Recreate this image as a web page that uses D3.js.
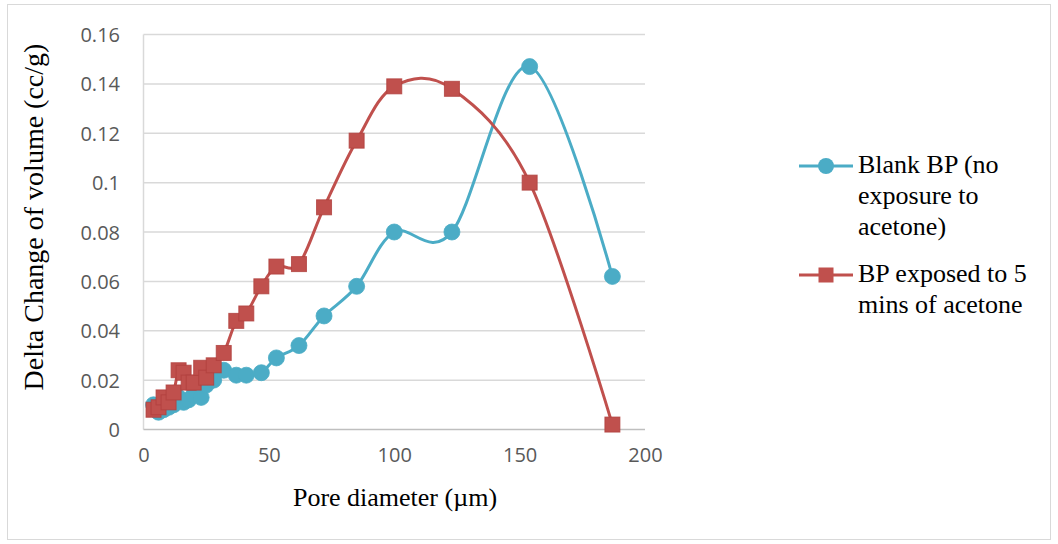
<!DOCTYPE html>
<html>
<head>
<meta charset="utf-8">
<script src="https://cdn.jsdelivr.net/npm/d3@7"></script>
<style>
  html, body { margin: 0; padding: 0; background: #fff; }
  svg { display: block; }
</style>
</head>
<body>
<svg id="chart" width="1058" height="544"></svg>
<script>
// ---- data ----
const poreDiameter = [4, 6, 8, 10, 12, 14, 16, 18, 20, 23, 25, 28, 32, 37, 41, 47, 53, 62, 72, 85, 100, 123, 154, 187];
const blankBP = [0.010, 0.007, 0.008, 0.009, 0.010, 0.013, 0.011, 0.012, 0.014, 0.013, 0.018, 0.020, 0.024, 0.022, 0.022, 0.023, 0.029, 0.034, 0.046, 0.058, 0.080, 0.080, 0.147, 0.062];
const exposedBP = [0.008, 0.009, 0.013, 0.011, 0.015, 0.024, 0.023, 0.019, 0.019, 0.025, 0.021, 0.026, 0.031, 0.044, 0.047, 0.058, 0.066, 0.067, 0.090, 0.117, 0.139, 0.138, 0.100, 0.002];
const xTicks = [0, 50, 100, 150, 200];
const yTicks = [0, 0.02, 0.04, 0.06, 0.08, 0.1, 0.12, 0.14, 0.16];
const seriesNames = [["Blank BP (no", "exposure to", "acetone)"], ["BP exposed to 5", "mins of acetone"]];
const xTitle = "Pore diameter (µm)";
const yTitle = "Delta Change of volume (cc/g)";

(function () {
const blue = "#4BACC6", red = "#C0504D";
const svg = d3.select("#chart");

// chart area border
svg.append("rect").attr("x", 7.5).attr("y", 4.5).attr("width", 1043).attr("height", 535)
  .attr("fill", "#fff").attr("stroke", "#D9D9D9").attr("stroke-width", 1);

const pL = 143.5, pR = 645, pT = 34.5, pB = 429.5;
const x = d3.scaleLinear().domain([0, 200]).range([pL, pR]);
const y = d3.scaleLinear().domain([0, 0.16]).range([pB, pT]);

// gridlines
svg.append("g").selectAll("line").data(yTicks.filter(d => d > 0)).join("line")
  .attr("x1", pL).attr("x2", pR)
  .attr("y1", d => y(d)).attr("y2", d => y(d))
  .attr("stroke", "#D9D9D9").attr("stroke-width", 1.5);

// axes lines
svg.append("line").attr("x1", pL).attr("x2", pL).attr("y1", pT).attr("y2", pB)
  .attr("stroke", "#D9D9D9").attr("stroke-width", 1.5);
svg.append("line").attr("x1", pL).attr("x2", pR).attr("y1", pB).attr("y2", pB)
  .attr("stroke", "#BFBFBF").attr("stroke-width", 1.5);

// tick labels via d3 axes
const yAxis = d3.axisLeft(y).tickValues(yTicks).tickSize(0).tickPadding(0)
  .tickFormat(d => d === 0 ? "0" : String(+d.toFixed(2)));
const gy = svg.append("g").attr("transform", `translate(${120},0)`).call(yAxis);
gy.select(".domain").remove();
gy.selectAll("text").attr("font-family", "'Open Sans', sans-serif").attr("font-size", 20)
  .attr("fill", "#595959").attr("dy", "0.35em");

const xAxis = d3.axisBottom(x).tickValues(xTicks).tickSize(0).tickPadding(0).tickFormat(d3.format("d"));
const gx = svg.append("g").attr("transform", `translate(0,${447})`).call(xAxis);
gx.select(".domain").remove();
gx.selectAll("text").attr("font-family", "'Open Sans', sans-serif").attr("font-size", 20)
  .attr("fill", "#595959").attr("dy", "0.75em");

// titles
svg.append("text").attr("x", 395).attr("y", 506).attr("text-anchor", "middle")
  .attr("font-family", "'Liberation Serif', 'Times New Roman', serif").attr("font-size", 26)
  .attr("fill", "#000").text(xTitle);
svg.append("text").attr("transform", "translate(43,217) rotate(-90)").attr("text-anchor", "middle")
  .attr("font-family", "'Liberation Serif', 'Times New Roman', serif").attr("font-size", 28)
  .attr("fill", "#000").text(yTitle);

// series
const line = d3.line().x(d => x(d[0])).y(d => y(d[1])).curve(d3.curveCardinal.tension(0));
const blueData = poreDiameter.map((d, i) => [d, blankBP[i]]);
const redData = poreDiameter.map((d, i) => [d, exposedBP[i]]);

svg.append("path").datum(blueData).attr("d", line).attr("fill", "none")
  .attr("stroke", blue).attr("stroke-width", 3);
svg.append("g").selectAll("circle").data(blueData).join("circle")
  .attr("cx", d => x(d[0])).attr("cy", d => y(d[1])).attr("r", 8)
  .attr("fill", blue).attr("stroke", blue).attr("stroke-opacity", 0.8).attr("stroke-width", 1);

svg.append("path").datum(redData).attr("d", line).attr("fill", "none")
  .attr("stroke", red).attr("stroke-width", 3);
const sq = 15;
svg.append("g").selectAll("rect").data(redData).join("rect")
  .attr("x", d => x(d[0]) - sq / 2).attr("y", d => y(d[1]) - sq / 2)
  .attr("width", sq).attr("height", sq)
  .attr("fill", red).attr("stroke", "#B0403D").attr("stroke-opacity", 0.8).attr("stroke-width", 1);

// legend
const legend = svg.append("g");
const items = [{ color: blue, shape: "circle", ly: 166, lines: seriesNames[0] },
               { color: red, shape: "square", ly: 275, lines: seriesNames[1] }];
items.forEach(it => {
  legend.append("line").attr("x1", 799).attr("x2", 853).attr("y1", it.ly).attr("y2", it.ly)
    .attr("stroke", it.color).attr("stroke-width", 3);
  if (it.shape === "circle") {
    legend.append("circle").attr("cx", 826).attr("cy", it.ly).attr("r", 8).attr("fill", it.color);
  } else {
    legend.append("rect").attr("x", 826 - sq / 2).attr("y", it.ly - sq / 2).attr("width", sq).attr("height", sq)
      .attr("fill", it.color);
  }
  const t = legend.append("text").attr("font-family", "'Liberation Serif', 'Times New Roman', serif")
    .attr("font-size", 26).attr("fill", "#000");
  it.lines.forEach((s, i) => {
    t.append("tspan").attr("x", 858).attr("y", it.ly + 7 + i * 31).text(s);
  });
});
})();
</script>
</body>
</html>
